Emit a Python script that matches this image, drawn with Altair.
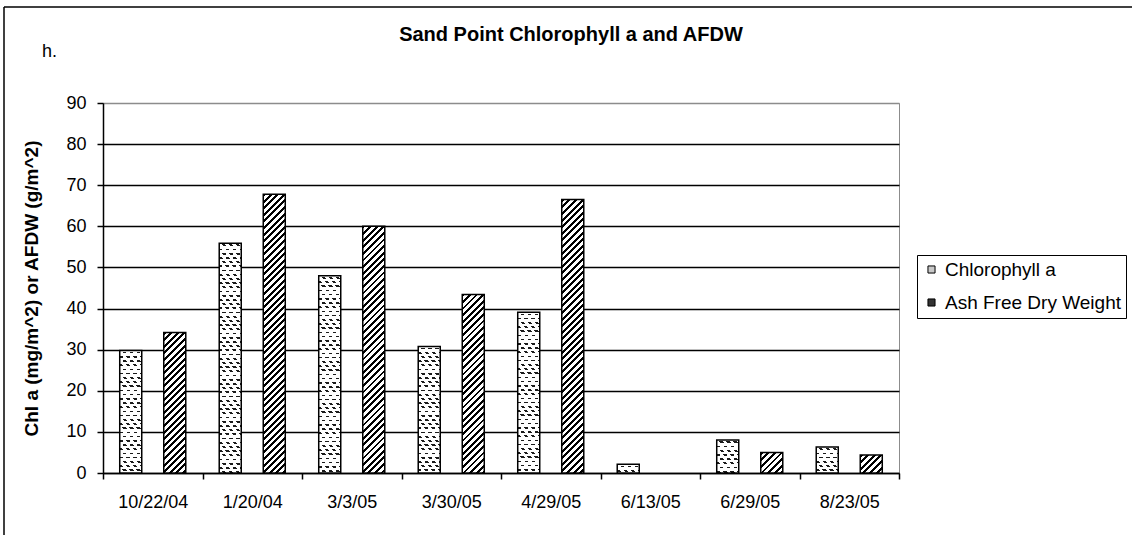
import altair as alt
import pandas as pd

# Sampling dates (category order as listed on the axis)
dates = ["10/22/04", "1/20/04", "3/3/05", "3/30/05", "4/29/05", "6/13/05", "6/29/05", "8/23/05"]
series = ["Chlorophyll a", "Ash Free Dry Weight"]

# Chl a in mg/m^2, AFDW in g/m^2 (no AFDW sample on 6/13/05)
chl_a = [29.8, 55.9, 48.0, 30.8, 39.1, 2.1, 8.0, 6.3]
afdw = [34.2, 67.8, 60.0, 43.4, 66.5, None, 5.0, 4.4]

y_ticks = list(range(0, 91, 10))
chart_title = "Sand Point Chlorophyll a and AFDW"

rows = []
for d, c, a in zip(dates, chl_a, afdw):
    rows.append({"date": d, "series": series[0], "value": c})
    if a is not None:
        rows.append({"date": d, "series": series[1], "value": a})
df = pd.DataFrame(rows)

# ---- geometry of the plot area ----
W, H = 796, 370
Y_MAX = 90
BAND = W / len(dates)
PAD_IN, PAD_OUT = 0.5, 0.38
BAR_W = BAND / (2 - PAD_IN + 2 * PAD_OUT) * (1 - PAD_IN)
FONT = "Liberation Sans"


def stripe_gradient(a, b, w, h, period, ink, phase, ink_color, bg):
    """Linear gradient that paints stripes of constant pixel spacing.

    Stripes run along lines a*x + b*y = const (pixel space of the bar);
    the gradient is expressed in bounding-box units of a w x h rect."""
    corners = [(0, 0), (w, 0), (0, h), (w, h)]
    qs = [a * x + b * y for x, y in corners]
    qmin, qmax = min(qs), max(qs)
    x0, y0 = corners[qs.index(qmin)]
    L = qmax - qmin
    c = L / (a * a * w * w + b * b * h * h)
    x1, y1 = x0 / w, y0 / h
    x2, y2 = x1 + c * a * w, y1 + c * b * h

    stops = [(0.0, bg)]
    k = int((qmin - phase) // period) - 1
    while True:
        s = phase + k * period
        if s > qmax:
            break
        lo = max(s, qmin)
        hi = min(s + ink, qmax)
        if hi > lo:
            ta = round((lo - qmin) / L, 5)
            tb = round((hi - qmin) / L, 5)
            stops += [(ta, bg), (ta, ink_color), (tb, ink_color), (tb, bg)]
        k += 1
    stops.append((1.0, bg))
    return alt.LinearGradient(
        gradient="linear",
        x1=round(x1, 5), y1=round(y1, 5), x2=round(x2, 5), y2=round(y2, 5),
        stops=[alt.GradientStop(offset=o, color=col) for o, col in stops],
    )


x_enc = alt.X("date:N", scale=alt.Scale(domain=dates, paddingInner=0, paddingOuter=0),
              sort=None,
              axis=alt.Axis(title=None, labelAngle=0, tickBand="extent", tickSize=6,
                            labelPadding=14, grid=False, domainWidth=1.5, tickWidth=1.5,
                            domainColor="black", tickColor="black"))
xo_enc = alt.XOffset("series:N", scale=alt.Scale(domain=series, paddingInner=PAD_IN,
                                                 paddingOuter=PAD_OUT), sort=series)
y_enc = alt.Y("value:Q", scale=alt.Scale(domain=[0, Y_MAX], nice=False, zero=True),
              axis=alt.Axis(values=y_ticks, title="Chl a (mg/m^2) or AFDW (g/m^2)",
                            tickSize=6, labelPadding=11, titlePadding=24,
                            domainWidth=1.5, tickWidth=1.5, domainColor="black",
                            tickColor="black", grid=True, gridWidth=1.5,
                            gridColor=alt.condition("datum.value == 90",
                                                    alt.value("#8c8c8c"),
                                                    alt.value("black"))))

base = alt.Chart(df).mark_bar(strokeWidth=0).encode(
    x=x_enc, xOffset=xo_enc, y=y_enc,
    color=alt.Color("series:N", scale=alt.Scale(domain=series, range=["#c8c8c8", "#333333"]),
                    legend=alt.Legend(title=None, orient="none", legendX=814, legendY=152,
                                      symbolType="square", symbolSize=50,
                                      symbolStrokeColor="black", symbolStrokeWidth=1,
                                      labelFont=FONT, labelFontSize=19, labelColor="black",
                                      labelLimit=0, labelOffset=4, rowPadding=13,
                                      padding=5, strokeColor="black", fillColor="white")),
)

layers = [base]
for i, row in df.iterrows():
    h = row["value"] / Y_MAX * H
    sel = alt.Chart(df).transform_filter(
        (alt.datum.date == row["date"]) & (alt.datum.series == row["series"]))
    enc = dict(x=x_enc, xOffset=xo_enc, y=y_enc)
    if row["series"] == series[1]:
        # diagonal hatching "///"
        grad = stripe_gradient(1, 1, BAR_W, h, period=6.6, ink=2.9, phase=0,
                               ink_color="black", bg="white")
        layers.append(sel.mark_bar(fill=grad, stroke="black", strokeWidth=1.5).encode(**enc))
    else:
        # small staggered dashes: horizontal rows masked by a slanted window
        rows_grad = stripe_gradient(0, 1, BAR_W, h, period=4.2, ink=1.7, phase=1.3,
                                    ink_color="#1a1a1a", bg="white")
        mask_grad = stripe_gradient(1, -3.5 / 4.2, BAR_W, h, period=7.0, ink=3.3, phase=1.5,
                                    ink_color="rgba(255,255,255,0)", bg="white")
        layers.append(sel.mark_bar(fill=rows_grad, strokeWidth=0).encode(**enc))
        layers.append(sel.mark_bar(fill=mask_grad, stroke="black", strokeWidth=1.5).encode(**enc))

one = pd.DataFrame({"label": ["h."], "title": [chart_title]})
panel_tag = alt.Chart(one).mark_text(align="left", baseline="alphabetic", font=FONT,
                                     fontSize=18, color="black").encode(
    x=alt.value(-61), y=alt.value(-46), text="label:N")
title_text = alt.Chart(one).mark_text(align="center", baseline="alphabetic", font=FONT,
                                      fontSize=20, fontWeight="bold", color="black").encode(
    x=alt.value(468), y=alt.value(-62), text="title:N")
frame_left = alt.Chart(one).mark_rule(color="black", strokeWidth=1.5).encode(
    x=alt.value(-99), y=alt.value(-96), y2=alt.value(432))
frame_top = alt.Chart(one).mark_rule(color="black", strokeWidth=1.5).encode(
    x=alt.value(-99), x2=alt.value(1029), y=alt.value(-96))

layers += [title_text, panel_tag, frame_left, frame_top]

chart = alt.layer(*layers).properties(
    width=W, height=H,
    autosize=alt.AutoSizeParams(type="none"),
    padding={"left": 103, "top": 103, "right": 1132 - 103 - W, "bottom": 535 - 103 - H},
    background="white",
).configure_view(
    stroke="#8c8c8c", strokeWidth=1,
).configure_axis(
    labelFont=FONT, labelFontSize=18, labelColor="black",
    titleFont=FONT, titleFontSize=19, titleFontWeight="bold", titleColor="black",
)

chart.save("out.html", embed_options={"renderer": "svg", "actions": False})
